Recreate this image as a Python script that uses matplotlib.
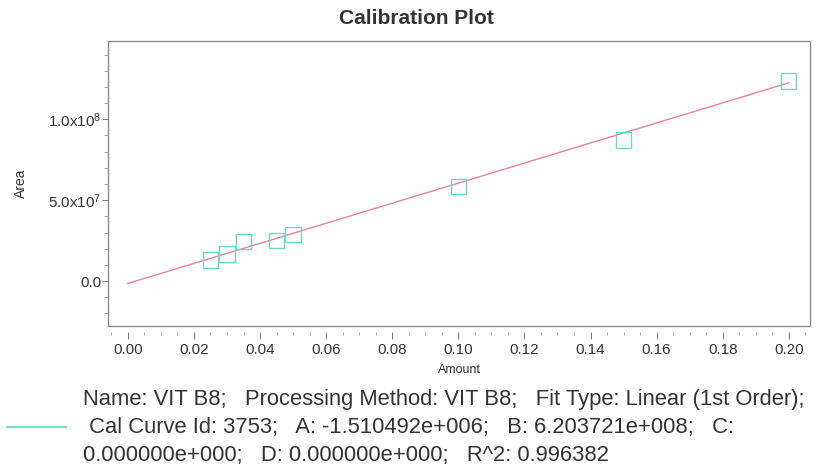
import matplotlib
matplotlib.use('Agg')
import matplotlib.pyplot as plt
import matplotlib.lines as lines
from matplotlib import ticker
import numpy as np

plt.rcParams['font.family'] = ['Liberation Sans', 'DejaVu Sans']

# calibration standards (amount vs peak area)
amounts = [0.025, 0.030, 0.035, 0.045, 0.050, 0.100, 0.150, 0.200]
areas = [1.30e7, 1.67e7, 2.43e7, 2.49e7, 2.89e7, 5.83e7, 8.72e7, 1.237e8]

# linear fit coefficients from the report
fitA = -1.510492e6
fitB = 6.203721e8
fitRange = [0.0, 0.2]

xticks = [0.00, 0.02, 0.04, 0.06, 0.08, 0.10, 0.12, 0.14, 0.16, 0.18, 0.20]
yticks = [0.0, 5.0e7, 1.0e8]
ytickLabels = ['0.0', r'5.0x10$^{7}$', r'1.0x10$^{8}$']

legendLines = ['Name: VIT B8;   Processing Method: VIT B8;   Fit Type: Linear (1st Order);',
               ' Cal Curve Id: 3753;   A: -1.510492e+006;   B: 6.203721e+008;   C:',
               '0.000000e+000;   D: 0.000000e+000;   R^2: 0.996382']

plt.rcParams['mathtext.fontset'] = 'custom'
plt.rcParams['mathtext.rm'] = 'Liberation Sans'
plt.rcParams['mathtext.it'] = 'Liberation Sans'
plt.rcParams['mathtext.default'] = 'rm'

W, H = 818, 471
fig = plt.figure(figsize=(W/100, H/100), dpi=100)
ax = fig.add_axes((108/W, 1 - 326/H, (810-108)/W, (326-41)/H))

fitX = np.array(fitRange)
ax.plot(fitX, fitA + fitB*fitX, color='#e8839e', lw=1.0, zorder=2)
ax.scatter(amounts, areas, marker='s', s=120, facecolors='none',
           edgecolors='#6ad8c4', linewidths=1.0, zorder=3)

ax.set_xlim(-0.006, 0.2064)
ax.set_ylim(-2.78e7, 1.484e8)

# frame drawn by the background patch, spines hidden
for s in ax.spines.values():
    s.set_visible(False)
ax.spines['bottom'].set_position(('outward', 4))
ax.patch.set_edgecolor('#8a8a8a')
ax.patch.set_linewidth(1.0)

ax.set_xticks(xticks)
ax.xaxis.set_major_formatter(ticker.StrMethodFormatter('{x:.2f}'))
ax.xaxis.set_minor_locator(ticker.MultipleLocator(0.005))
ax.set_yticks(yticks)
ax.set_yticklabels(ytickLabels)
ax.yaxis.set_minor_locator(ticker.MultipleLocator(1e7))

ax.tick_params(axis='x', which='major', length=5, width=0.7, color='#777777',
               labelsize=11, labelcolor='#333333', pad=3)
ax.tick_params(axis='x', which='minor', length=2.5, width=0.6, color='#999999')
ax.tick_params(axis='y', which='major', length=4, width=0.7, color='#777777',
               labelsize=11, labelcolor='#333333', pad=1)
ax.tick_params(axis='y', which='minor', length=3, width=0.6, color='#999999')

fig.text(416/W, 1 - 18/H, 'Calibration Plot', fontsize=15, fontweight='bold',
         color='#333333', ha='center', va='center')
ax.set_xlabel('Amount', fontsize=9, color='#333333', labelpad=5)
ax.set_ylabel('Area', fontsize=10, color='#333333', labelpad=14)

# legend block below the plot
fig.add_artist(lines.Line2D([7/W, 66/W], [1 - 427/H, 1 - 427/H],
                            color='#7fd8c8', lw=1.5))
lineY = [399, 427, 455]
for txt, yy in zip(legendLines, lineY):
    fig.text(83/W, 1 - yy/H, txt, fontsize=15.8, color='#333333', va='center', ha='left')

plt.savefig('out.png', dpi=100)
